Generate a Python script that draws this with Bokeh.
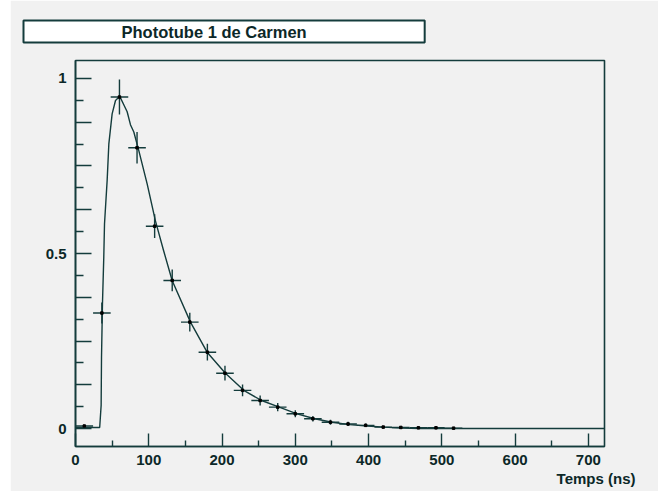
from bokeh.plotting import figure
from bokeh.models import Range1d, FixedTicker, ColumnDataSource, Title, Spacer
from bokeh.layouts import row
from bokeh.embed import file_html
from bokeh.resources import INLINE

# ---- data ----
bin_x = [12, 36, 60, 84, 108, 132, 156, 180, 204, 228, 252, 276, 300, 324,
         348, 372, 396, 420, 444, 468, 492, 516]
bin_y = [0.007, 0.33, 0.947, 0.802, 0.578, 0.423, 0.304, 0.218, 0.158, 0.109,
         0.080, 0.061, 0.042, 0.028, 0.018, 0.013, 0.009, 0.004, 0.003, 0.002,
         0.002, 0.001]
bin_err = [0.004, 0.03, 0.05, 0.045, 0.034, 0.031, 0.027, 0.024, 0.021, 0.017,
           0.014, 0.012, 0.010, 0.008, 0.007, 0.006, 0.005, 0.003, 0.003, 0.002,
           0.002, 0.001]
bin_half_width = 12

fit_x = [0, 33, 35, 35.5, 36.8, 38.6, 39.6, 43.2, 45.5, 50, 54.6, 60.4, 65.9,
         70.5, 75, 79.6, 86.4, 97.8, 109, 120, 131.9, 156.9, 179.6, 204.6,
         229.6, 254, 278, 302.4, 326.5, 350, 374, 398, 420.6, 445.7, 470, 722]
fit_y = [0.003, 0.003, 0.066, 0.204, 0.356, 0.49, 0.585, 0.709, 0.813, 0.899,
         0.937, 0.949, 0.925, 0.905, 0.868, 0.847, 0.794, 0.699, 0.594, 0.51,
         0.423, 0.304, 0.218, 0.158, 0.109, 0.080, 0.061, 0.042, 0.028, 0.018,
         0.011, 0.007, 0.004, 0.001, 0.0, 0.0]

x_ticks = [0, 100, 200, 300, 400, 500, 600, 700]
x_minor = [50, 150, 250, 350, 450, 550, 650]
y_ticks = [0, 0.125, 0.25, 0.375, 0.5, 0.625, 0.75, 0.875, 1.0]
y_minor = [0.0625, 0.1875, 0.3125, 0.4375, 0.5625, 0.6875, 0.8125, 0.9375]
y_labels = {0: "0", 0.5: "0.5", 1.0: "1"}

title_text = "Phototube 1 de Carmen"
x_title = "Temps (ns)"

LINE = "#143c3c"
TEXT = "#0c2828"
BG = "#f1f1f1"
FONT = "Liberation Sans"

p = figure(width=648, height=491, output_backend="svg", toolbar_location=None,
           x_range=Range1d(0, 722), y_range=Range1d(-0.0514, 1.0514),
           min_border_left=65, min_border_right=54, min_border_top=60,
           min_border_bottom=45)
p.background_fill_color = BG
p.border_fill_color = BG
p.outline_line_color = LINE
p.outline_line_width = 1.6
p.xgrid.visible = False
p.ygrid.visible = False

for ax in (p.xaxis[0], p.yaxis[0]):
    ax.axis_line_color = LINE
    ax.axis_line_width = 1.6
    ax.major_tick_line_color = LINE
    ax.minor_tick_line_color = LINE
    ax.major_tick_line_width = 1.4
    ax.minor_tick_line_width = 1.4
    ax.major_tick_out = 0
    ax.minor_tick_out = 0
    ax.major_label_text_font = FONT
    ax.major_label_text_font_style = "bold"
    ax.major_label_text_font_size = "15px"
    ax.major_label_text_color = TEXT

p.xaxis.ticker = FixedTicker(ticks=x_ticks, minor_ticks=x_minor)
p.xaxis.major_tick_in = 13
p.xaxis.minor_tick_in = 6
p.xaxis.major_label_standoff = 8

p.yaxis.ticker = FixedTicker(ticks=y_ticks, minor_ticks=y_minor)
p.yaxis.major_tick_in = 16
p.yaxis.minor_tick_in = 8
p.yaxis.major_label_standoff = 9
p.yaxis.major_label_overrides = {t: y_labels.get(t, "") for t in y_ticks}

# fitted curve
p.line(fit_x, fit_y, line_color=LINE, line_width=1.4)

# data with error bars
src = ColumnDataSource(dict(
    x=bin_x, y=bin_y,
    x0=[x - bin_half_width for x in bin_x], x1=[x + bin_half_width for x in bin_x],
    y0=[y - e for y, e in zip(bin_y, bin_err)], y1=[y + e for y, e in zip(bin_y, bin_err)],
))
p.segment(x0="x0", y0="y", x1="x1", y1="y", source=src, line_color=LINE, line_width=1.4)
p.segment(x0="x", y0="y0", x1="x", y1="y1", source=src, line_color=LINE, line_width=1.4)
p.scatter(x="x", y="y", source=src, marker="square", size=2.5, color="#000000")

# title in a white box (ROOT style)
p.title = Title(text=title_text, align="left", offset=-52, standoff=36,
                text_font=FONT, text_font_style="bold", text_font_size="16.5px",
                text_color=TEXT, background_fill_color="white",
                border_line_color=LINE, border_line_width=2,
                padding=dict(left=98, right=118, top=2, bottom=2))

# x axis title, right aligned below the axis
p.add_layout(Title(text=x_title, align="right", offset=-31, standoff=0,
                   text_font=FONT, text_font_style="bold", text_font_size="15px",
                   text_color=TEXT), "below")

layout = row(Spacer(width=10, height=491), p)

open("out.html", "w").write(file_html(layout, INLINE))
